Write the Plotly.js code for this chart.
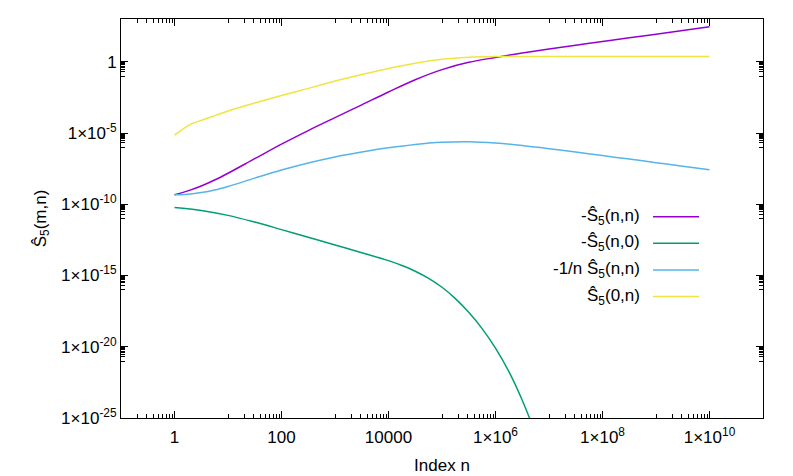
<!DOCTYPE html>
<html>
<head>
<meta charset="utf-8">
<script src="https://cdn.plot.ly/plotly-3.0.1.min.js"></script>
<style>
  html, body { margin: 0; padding: 0; background: #fff; }
  #plot { width: 793px; height: 476px; }
</style>
</head>
<body>
<div id="plot"></div>
<script>
// index n for -S5(n,n) and -1/n S5(n,n)
var n_grid = [1, 1.78, 3.16, 5.62, 10, 31.6, 100, 316, 1000, 3160, 1e4, 3.16e4, 1e5, 3.16e5,
              1e6, 3.16e6, 1e7, 3.16e7, 1e8, 3.16e8, 1e9, 3.16e9, 1e10];
var s_nn = [4.6e-10, 8.7e-10, 1.9e-9, 5.0e-9, 1.5e-8, 1.58e-7, 1.66e-6, 1.48e-5, 1.2e-4, 9.5e-4, 7.6e-3, 5.5e-2, 0.28, 0.91,
            2.0, 4.1, 7.9, 14.5, 26.3, 47.9, 85, 155, 282];
var s_nn_over_n = [4.6e-10, 5.1e-10, 6.6e-10, 1.0e-9, 1.78e-9, 6.8e-9, 2.5e-8, 7.9e-8, 2.1e-7, 4.6e-7, 9.1e-7, 1.58e-6, 2.24e-6, 2.45e-6,
                   2.0e-6, 1.35e-6, 7.9e-7, 4.6e-7, 2.6e-7, 1.48e-7, 8.3e-8, 4.7e-8, 2.6e-8];

// -S5(n,0)
var n_green = [1, 3.16, 10, 31.6, 100, 316, 1000, 3160, 1e4, 1.78e4, 3.16e4, 5.62e4, 1e5, 1.78e5, 3.16e5, 5.62e5,
               1e6, 1.78e6, 3.16e6, 5.62e6];
var s_n0 = [6.0e-11, 3.7e-11, 1.66e-11, 5.6e-12, 1.66e-12, 4.8e-13, 1.38e-13, 4.0e-14, 1.1e-14, 5.0e-15, 2.0e-15, 6.3e-16,
            1.5e-16, 2.4e-17, 2.6e-18, 1.86e-19, 7.9e-21, 1.78e-22, 1.78e-24, 7.9e-27];

// S5(0,n)
var n_yellow = [1, 2, 3.16, 5.62, 10, 31.6, 100, 316, 1000, 3160, 1e4, 3.16e4, 1e5, 3.16e5, 1e6, 1e7, 1e8, 1e9, 1e10];
var s_0n = [7.2e-6, 4.2e-5, 7.6e-5, 1.66e-4, 3.5e-4, 1.26e-3, 4.3e-3, 1.35e-2, 4.4e-2, 0.126, 0.34, 0.79, 1.48, 2.04,
            2.29, 2.34, 2.34, 2.34, 2.34];

var labels = ['-Ŝ<sub>5</sub>(n,n)', '-Ŝ<sub>5</sub>(n,0)', '-1/n Ŝ<sub>5</sub>(n,n)', 'Ŝ<sub>5</sub>(0,n)'];
var colors = ['#9400d3', '#009e73', '#56b4e9', '#f0e442'];

var x_tickvals = [1, 100, 1e4, 1e6, 1e8, 1e10];
var x_ticktext = ['1', '100', '10000', '1×10<sup>6</sup>', '1×10<sup>8</sup>', '1×10<sup>10</sup>'];
var y_tickvals = [1e-25, 1e-20, 1e-15, 1e-10, 1e-5, 1];
var y_ticktext = ['1×10<sup>-25</sup>', '1×10<sup>-20</sup>', '1×10<sup>-15</sup>', '1×10<sup>-10</sup>', '1×10<sup>-5</sup>', '1'];

// gnuplot-style minor ticks
var x_minor = [];
for (var m = -2; m <= 10; m += 2) {
    for (var k = 1; k <= 9; k++) x_minor.push(k * Math.pow(10, m + 1));
}
var y_minor = [];
for (var m = -25; m <= 5; m += 5) {
    for (var k = 1; k <= 9; k++) y_minor.push(k * Math.pow(10, m - 1));
}

var font = {family: 'Liberation Sans, Arial, sans-serif', size: 17, color: '#000'};

var data = [
    {x: n_grid, y: s_nn, mode: 'lines', line: {color: colors[0], width: 1.5, shape: 'spline', smoothing: 1}},
    {x: n_green, y: s_n0, mode: 'lines', line: {color: colors[1], width: 1.5, shape: 'spline', smoothing: 1}},
    {x: n_grid, y: s_nn_over_n, mode: 'lines', line: {color: colors[2], width: 1.5, shape: 'spline', smoothing: 1}},
    {x: n_yellow, y: s_0n, mode: 'lines', line: {color: colors[3], width: 1.5, shape: 'spline', smoothing: 0.6}}
];

// legend drawn gnuplot-style: text on the left, sample line on the right
var annotations = [];
var shapes = [];
var leg_y = [0.5045, 0.438, 0.371, 0.3045];
for (var i = 0; i < labels.length; i++) {
    annotations.push({xref: 'paper', yref: 'paper', x: 0.812, y: leg_y[i], xanchor: 'right', yanchor: 'middle',
                      text: labels[i], showarrow: false, font: font});
    shapes.push({type: 'line', xref: 'paper', yref: 'paper', x0: 0.8287, x1: 0.9003, y0: leg_y[i], y1: leg_y[i],
                 line: {color: colors[i], width: 1.5}});
}

var layout = {
    width: 793, height: 476,
    margin: {l: 121, r: 30, t: 18.5, b: 57.5},
    paper_bgcolor: '#fff', plot_bgcolor: '#fff',
    showlegend: false,
    font: font,
    xaxis: {type: 'log', range: [-1, 11], title: {text: 'Index n', font: font, standoff: 12},
            tickmode: 'array', tickvals: x_tickvals, ticktext: x_ticktext, ticklabelstandoff: 4,
            ticks: 'inside', ticklen: 7, tickcolor: '#000', showgrid: false, zeroline: false,
            showline: true, linecolor: '#000', linewidth: 1, mirror: 'ticks',
            minor: {tickvals: x_minor, ticks: 'inside', ticklen: 4, tickcolor: '#000', showgrid: false}},
    yaxis: {type: 'log', range: [-25, 3], title: {text: 'Ŝ<sub>5</sub>(m,n)', font: font, standoff: 10},
            tickmode: 'array', tickvals: y_tickvals, ticktext: y_ticktext,
            ticks: 'inside', ticklen: 7, tickcolor: '#000', showgrid: false, zeroline: false,
            showline: true, linecolor: '#000', linewidth: 1, mirror: 'ticks',
            minor: {tickvals: y_minor, ticks: 'inside', ticklen: 4, tickcolor: '#000', showgrid: false}},
    annotations: annotations,
    shapes: shapes
};

Plotly.newPlot('plot', data, layout, {displayModeBar: false, staticPlot: true});
</script>
</body>
</html>
